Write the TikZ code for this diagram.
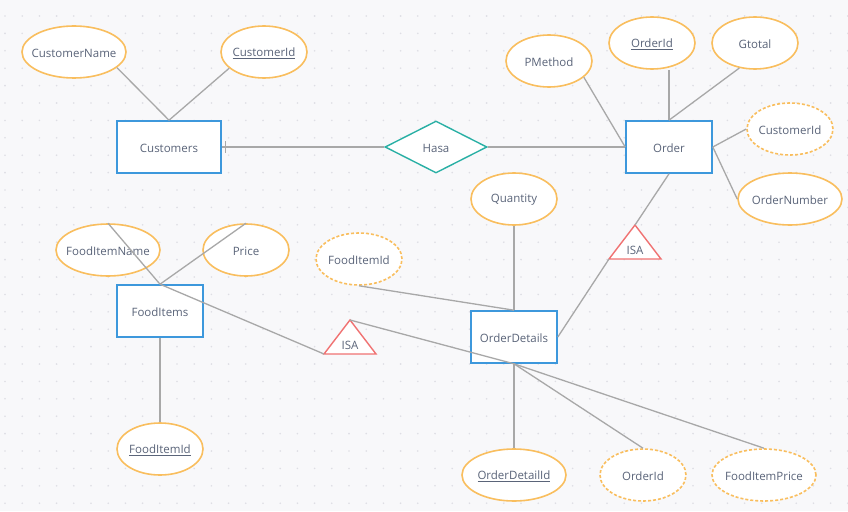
\documentclass[tikz,border=0pt]{standalone}
\usepackage{fontspec}
\setmainfont{Open Sans}
\usetikzlibrary{shapes.geometric,calc}
\definecolor{bgc}{HTML}{F8F8FA}
\definecolor{dotc}{HTML}{DEDEE4}
\definecolor{attrc}{HTML}{F9BE5E}
\definecolor{entc}{HTML}{3D98DC}
\definecolor{relc}{HTML}{2AB0A5}
\definecolor{isac}{HTML}{F07272}
\definecolor{linec}{HTML}{A8A8A8}
\definecolor{txtc}{HTML}{5A6479}
\tikzset{
  every label/.style={text=txtc, font=\fontsize{11.5}{13}\selectfont, inner sep=0pt, yshift=-1pt},
  attr/.style={ellipse, draw=attrc, line width=1.6pt, fill=white, inner sep=0pt, minimum width=86pt, minimum height=52pt},
  wide/.style={minimum width=104pt},
  weak/.style={dashed, dash pattern=on 3pt off 2pt},
  entity/.style={rectangle, draw=entc, line width=1.6pt, fill=white, inner sep=0pt, minimum width=86pt, minimum height=52pt, text=txtc, font=\fontsize{11.5}{13}\selectfont, text height=10pt, text depth=0pt},
  rel/.style={diamond, draw=relc, line width=1.4pt, fill=white, inner sep=0pt, aspect=2, minimum width=102pt, minimum height=52pt, text=txtc, font=\fontsize{11.5}{13}\selectfont, text height=10pt, text depth=0pt},
  isatri/.style={draw=isac, line width=1.4pt, fill=white, line join=miter},
  isatxt/.style={text=txtc, font=\fontsize{11.5}{13}\selectfont, inner sep=0pt},
  conn/.style={draw=linec, line width=1.3pt},
}
\begin{document}
\begin{tikzpicture}[x=1pt, y=-1pt]
\fill[bgc] (0,0) rectangle (848,511);
\useasboundingbox (0,0) rectangle (848,511);
\foreach \i in {0,...,49} {
  \foreach \j in {0,...,29} {
    \fill[dotc] (5+17.2*\i, 16+17.4*\j) circle (0.9pt);
  }
}
% Customers side
\node[entity, minimum width=104pt] (cu) at (169,147) {Customers};
\node[attr, wide, label={center:CustomerName}] (cn) at (74,52) {};
\node[attr, label={center:\underline{CustomerId}}] (cid) at (264,52) {};
\node[rel] (ha) at (436,147) {Hasa};
% Order side
\node[entity] (or) at (669,147) {Order};
\node[attr, label={center:PMethod}] (pm) at (549,61) {};
\node[attr, label={center:\underline{OrderId}}] (oi) at (652,43) {};
\node[attr, label={center:Gtotal}] (gt) at (755,43) {};
\node[attr, weak, label={center:CustomerId}] (oci) at (790,129) {};
\node[attr, wide, label={center:OrderNumber}] (on) at (790,199) {};
% Order details
\node[entity] (od) at (514,337) {OrderDetails};
\node[attr, label={center:Quantity}] (qt) at (514,199) {};
\node[attr, weak, label={center:FoodItemId}] (ofi) at (359,259) {};
\node[attr, wide, label={center:\underline{OrderDetailId}}] (odi) at (514,475) {};
\node[attr, weak, label={center:OrderId}] (ooi) at (643,475) {};
\node[attr, wide, weak, label={center:FoodItemPrice}] (fip) at (764,475) {};
% Food items
\node[entity] (fi) at (160,311) {FoodItems};
\node[attr, wide, label={center:FoodItemName}] (fn) at (108,250) {};
\node[attr, label={center:Price}] (pr) at (246,250) {};
\node[attr, label={center:\underline{FoodItemId}}] (fid) at (160,449) {};
% ISA triangles
\coordinate (ia1) at (635,225);
\coordinate (ib1) at (609,259);
\coordinate (ic1) at (661,259);
\draw[isatri] (ia1) -- (ib1) -- (ic1) -- cycle;
\node[isatxt] (isa1) at (635,250) {ISA};
\coordinate (ia2) at (350,320);
\coordinate (ib2) at (324,354);
\coordinate (ic2) at (376,354);
\draw[isatri] (ia2) -- (ib2) -- (ic2) -- cycle;
\node[isatxt] (isa2) at (350,345) {ISA};
% connectors
\draw[conn] (cn.-20) -- (cu.north);
\draw[conn] (cid.-155) -- (cu.north);
\draw[conn] (cu.east) -- (ha.west);
\draw[conn] ([xshift=4pt]cu.east) ++(0,-6) -- ++(0,12);
\draw[conn] (ha.east) -- (or.west);
\draw[conn] (pm.-25) -- (or.west);
\draw[conn] (or.north |- oi.south) -- (or.north);
\draw[conn] (gt.-122) -- (or.north);
\draw[conn] (oci.west) -- (or.east);
\draw[conn] (on.west) -- (or.east);
\draw[conn] (or.south) -- (ia1);
\draw[conn] (ib1) -- (od.east);
\draw[conn] (qt.south) -- (od.north);
\draw[conn] (ofi.south) -- (od.north);
\draw[conn] (fn.north) -- (fi.north);
\draw[conn] (pr.north) -- (fi.north);
\draw[conn] (fi.north) -- (ib2);
\draw[conn] (ia2) -- (od.south);
\draw[conn] (od.south) -- (odi.north);
\draw[conn] (od.south) -- (ooi.north);
\draw[conn] (od.south) -- (fip.north);
\draw[conn] (fi.south) -- (fid.north);
\end{tikzpicture}
\end{document}
